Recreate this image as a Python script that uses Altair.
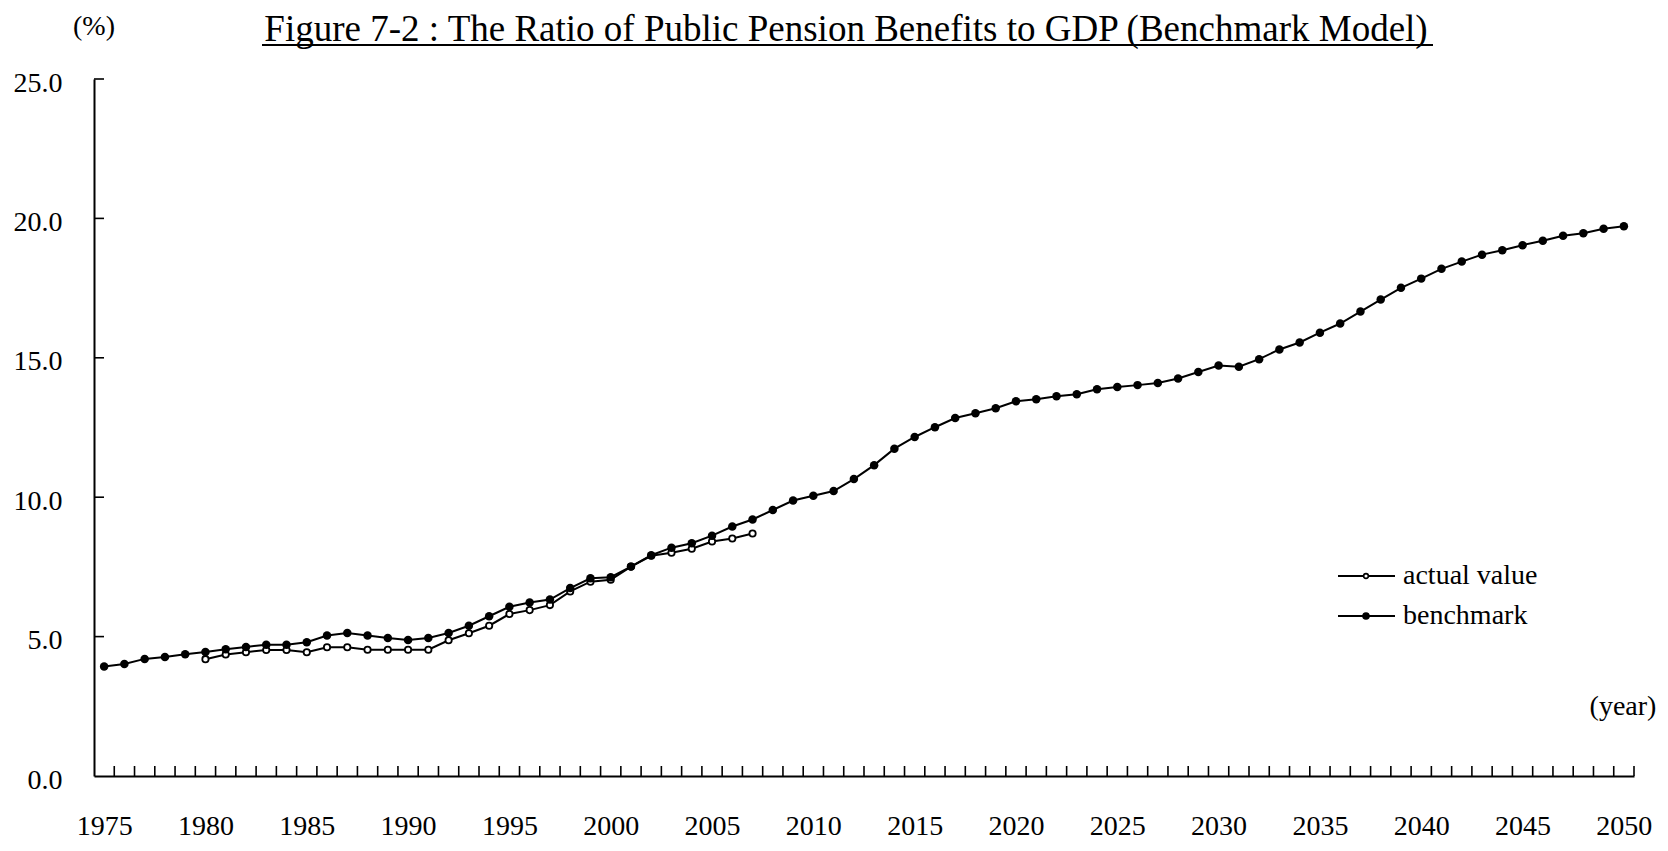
import altair as alt
import pandas as pd

# ---------------- data ----------------
years = list(range(1975, 2051))
benchmark = [
    3.93, 4.02, 4.20, 4.27, 4.37, 4.45, 4.55, 4.63, 4.71, 4.71,
    4.80, 5.04, 5.13, 5.04, 4.95, 4.88, 4.95, 5.13, 5.39, 5.73,
    6.07, 6.22, 6.33, 6.74, 7.09, 7.13, 7.51, 7.92, 8.19, 8.35,
    8.62, 8.95, 9.20, 9.54, 9.88, 10.05, 10.22, 10.65, 11.15, 11.74,
    12.16, 12.51, 12.84, 13.01, 13.19, 13.44, 13.51, 13.62, 13.69, 13.87,
    13.95, 14.02, 14.10, 14.26, 14.49, 14.72, 14.68, 14.95, 15.30, 15.55,
    15.90, 16.23, 16.66, 17.09, 17.51, 17.84, 18.19, 18.45, 18.70, 18.86,
    19.04, 19.20, 19.38, 19.47, 19.63, 19.72,
]
actual_years = list(range(1980, 2008))
actual = [
    4.19, 4.36, 4.44, 4.52, 4.52, 4.44, 4.62, 4.62, 4.53, 4.53,
    4.53, 4.53, 4.87, 5.12, 5.39, 5.81, 5.95, 6.13, 6.62, 6.97,
    7.04, 7.51, 7.90, 8.01, 8.15, 8.41, 8.52, 8.70,
]
x_label_values = list(range(1975, 2051, 5))
y_tick_values = [0, 5, 10, 15, 20, 25]
series_names = ["actual value", "benchmark"]
title_text = "Figure 7-2 : The Ratio of Public Pension Benefits to GDP (Benchmark Model)"

# ---------------- layout ----------------
FONT = "Liberation Serif"
W, H = 1540, 697
PAD = {"left": 86, "top": 71, "right": 26, "bottom": 70}

bench_df = pd.DataFrame({"year": years, "value": benchmark})
act_df = pd.DataFrame({"year": actual_years, "value": actual})
xtick_df = pd.DataFrame({"year": [y + 0.5 for y in years]})
ytick_df = pd.DataFrame({"value": [v for v in y_tick_values if v > 0]})

xscale = alt.Scale(domain=[1974.5, 2050.5], nice=False, zero=False)
yscale = alt.Scale(domain=[0, 25], nice=False, zero=True)

x_axis = alt.Axis(values=x_label_values, format="d", ticks=False, tickSize=0, grid=False,
                  domainColor="black", domainWidth=2, labelFont=FONT, labelFontSize=28,
                  labelColor="black", labelPadding=36, title=None, labelFlush=False)
y_axis = alt.Axis(values=y_tick_values, format=".1f", ticks=False, tickSize=0, grid=False,
                  domainColor="black", domainWidth=2, labelFont=FONT, labelFontSize=28,
                  labelColor="black", labelPadding=32, labelOffset=4, title=None)

X = alt.X("year:Q", scale=xscale, axis=x_axis)
Y = alt.Y("value:Q", scale=yscale, axis=y_axis)

act_line = alt.Chart(act_df).mark_line(color="black", strokeWidth=2).encode(x=X, y=Y)
act_pts = alt.Chart(act_df).mark_point(shape="circle", filled=True, fill="white",
                                       stroke="black", strokeWidth=1.8, size=40, opacity=1).encode(x=X, y=Y)
bench_line = alt.Chart(bench_df).mark_line(color="black", strokeWidth=2).encode(x=X, y=Y)
bench_pts = alt.Chart(bench_df).mark_circle(color="black", size=72, opacity=1).encode(x=X, y=Y)

xticks = alt.Chart(xtick_df).mark_rule(color="black", strokeWidth=1.6).encode(
    x=X, y=alt.value(H), y2=alt.value(H - 10))
yticks = alt.Chart(ytick_df).mark_rule(color="black", strokeWidth=1.6).encode(
    y=Y, x=alt.value(0), x2=alt.value(10))

# title with underline
title_df = pd.DataFrame({"t": [title_text]})
title_mark = alt.Chart(title_df).mark_text(font=FONT, fontSize=37, color="black", align="center",
                                           baseline="alphabetic").encode(
    text="t:N", x=alt.value(752), y=alt.value(-38))
underline = alt.Chart(title_df).mark_rule(color="black", strokeWidth=2).encode(
    x=alt.value(168), x2=alt.value(1339), y=alt.value(-34), y2=alt.value(-34))

unit_df = pd.DataFrame({"t": ["(%)"]})
unit_mark = alt.Chart(unit_df).mark_text(font=FONT, fontSize=28, color="black", align="center",
                                         baseline="middle").encode(
    text="t:N", x=alt.value(0), y=alt.value(-52))
year_df = pd.DataFrame({"t": ["(year)"]})
year_mark = alt.Chart(year_df).mark_text(font=FONT, fontSize=28, color="black", align="center",
                                         baseline="middle").encode(
    text="t:N", x=alt.value(1529), y=alt.value(628))

# legend (manual)
legend_layers = []
leg_rows = [(series_names[0], "white", 22), (series_names[1], "black", 36)]
for i, (name, fillc, sz) in enumerate(leg_rows):
    ly = 497 + 40 * i
    ldf = pd.DataFrame({"t": [name]})
    legend_layers.append(alt.Chart(ldf).mark_rule(color="black", strokeWidth=2).encode(
        x=alt.value(1244), x2=alt.value(1301), y=alt.value(ly), y2=alt.value(ly)))
    legend_layers.append(alt.Chart(ldf).mark_point(shape="circle", filled=True, fill=fillc,
                                                   stroke="black", strokeWidth=1.6, size=sz,
                                                   opacity=1).encode(
        x=alt.value(1272), y=alt.value(ly)))
    legend_layers.append(alt.Chart(ldf).mark_text(font=FONT, fontSize=28, color="black",
                                                  align="left", baseline="middle").encode(
        text="t:N", x=alt.value(1309), y=alt.value(ly)))

chart = alt.layer(
    act_line, act_pts, bench_line, bench_pts, xticks, yticks,
    title_mark, underline, unit_mark, year_mark, *legend_layers
).properties(
    width=W, height=H, autosize=alt.AutoSizeParams(type="none"), padding=PAD,
    background="white"
).configure_view(stroke=None)

chart.save("out.html", embed_options={"renderer": "svg", "actions": False})
